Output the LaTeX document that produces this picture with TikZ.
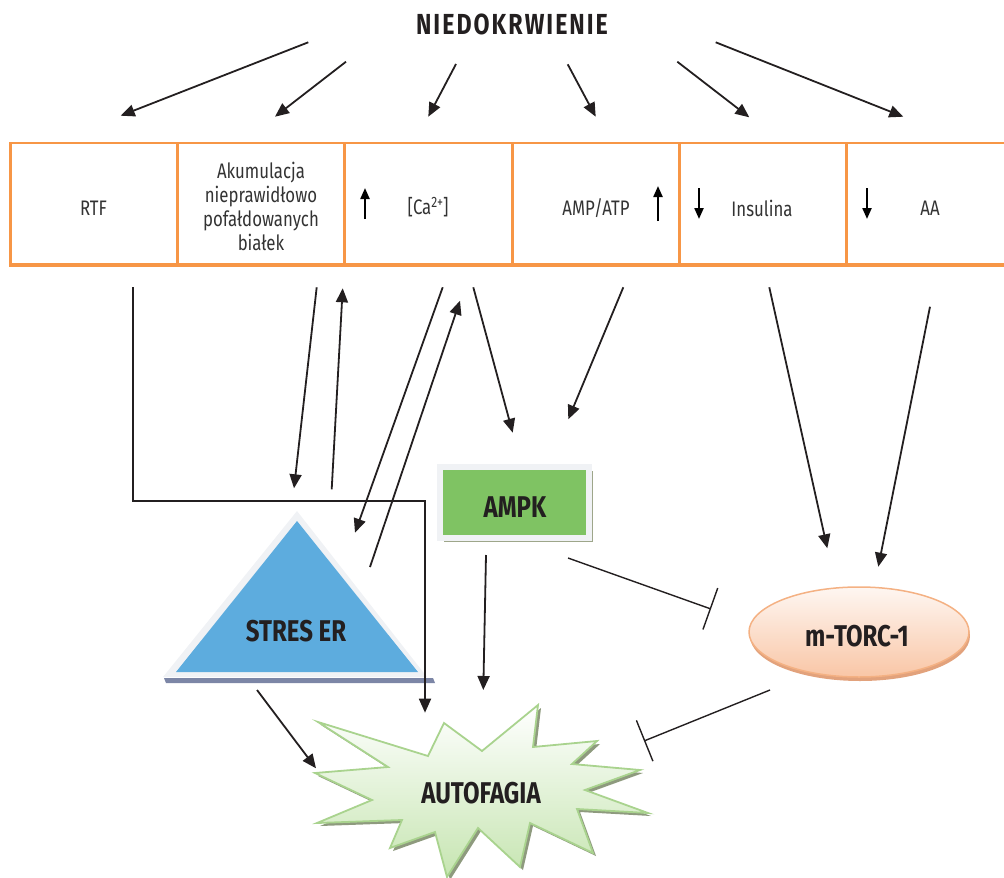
\documentclass[tikz,border=0pt]{standalone}
\usepackage{fontspec}
\setmainfont{Fira Sans}[FakeStretch=0.8]
\usetikzlibrary{arrows.meta,shapes.geometric,shadows}
\definecolor{orng}{HTML}{F79646}
\definecolor{txtgrey}{HTML}{333333}
\definecolor{lblk}{HTML}{231F20}
\definecolor{ampkgreen}{HTML}{7FC363}
\definecolor{ampkrim}{HTML}{F0F2F5}
\definecolor{ampkshadow}{HTML}{9EA68A}
\definecolor{erblue}{HTML}{5DACDE}
\definecolor{errim}{HTML}{F0F2F5}
\definecolor{ershadow}{HTML}{7C86A6}
\definecolor{torcfill}{HTML}{F9C6A6}
\definecolor{torcline}{HTML}{F4B183}
\definecolor{torcshadow}{HTML}{E2A27C}
\definecolor{autofill}{HTML}{C6E5B1}
\definecolor{autoline}{HTML}{A9D38E}
\definecolor{autoshadow}{HTML}{8E9A7E}
\tikzset{
  cell/.style={text=txtgrey, font=\fontsize{21}{24}\selectfont, align=center, inner sep=0pt},
  biglabel/.style={text=lblk, font=\fontsize{30}{32}\selectfont\bfseries, inner sep=0pt},
  conn/.style={line width=1.8pt, lblk, -{Triangle[length=14pt,width=12pt]}},
  inhib/.style={line width=1.4pt, lblk, -{Bar[width=44pt,line width=1.4pt]}},
  miniarrow/.style={line width=2.2pt, black, -{Triangle[length=11pt,width=9pt]}},
}
\begin{document}
\begin{tikzpicture}[x=1pt,y=-1pt]
\useasboundingbox (0,0) rectangle (1004,878);

% title
\node[text=lblk, font=\fontsize{29}{30}\selectfont\bfseries\addfontfeature{LetterSpace=7}, inner sep=0pt] (nied) at (512,24) {NIEDOKRWIENIE};

% table grid
\draw[orng, line width=2.8pt] (10.7,265) -- (10.7,143) -- (1004,143);
\draw[orng, line width=4pt] (9.3,265.3) -- (1004,265.3);
\foreach \x in {177.5,344.7,512.5,679.7,846.3}
  \draw[orng, line width=2.8pt] (\x,143) -- (\x,265);

% table cells
\node[cell] (rtf) at (93.5,208) {RTF};
\node[cell] (akum) at (261,206) {Akumulacja\\nieprawidłowo\\pofałdowanych\\białek};
\node[cell] (ca) at (428,207) {[Ca{\fontsize{15}{15}\selectfont\raisebox{7pt}{2+}}]};
\node[cell] (amp) at (596,208) {AMP/ATP};
\node[cell] (ins) at (762,208) {Insulina};
\node[cell] (aa) at (930,208) {AA};
\coordinate (caup1) at (365,219); \coordinate (caup2) at (365,188);
\coordinate (ampup1) at (658,221); \coordinate (ampup2) at (658,186);
\coordinate (insdn1) at (699,188); \coordinate (insdn2) at (699,219);
\coordinate (aadn1) at (867,188); \coordinate (aadn2) at (867,219);
\draw[miniarrow] (caup1) -- (caup2);
\draw[miniarrow] (ampup1) -- (ampup2);
\draw[miniarrow] (insdn1) -- (insdn2);
\draw[miniarrow] (aadn1) -- (aadn2);

% top arrows
\coordinate (t1s) at (308.3,42.3); \coordinate (t1e) at (120.7,115.7);
\coordinate (t2s) at (346,61.7);   \coordinate (t2e) at (275,116.7);
\coordinate (t3s) at (456,64);     \coordinate (t3e) at (428.3,116.7);
\coordinate (t4s) at (567.7,64.3); \coordinate (t4e) at (595.7,116.7);
\coordinate (t5s) at (677.3,61.7); \coordinate (t5e) at (749.3,117.3);
\coordinate (t6s) at (715.7,42.3); \coordinate (t6e) at (903.3,116.7);
\foreach \i in {1,...,6} \draw[conn] (t\i s) -- (t\i e);

% STRES ER triangle
\fill[ershadow] (164,678) -- (433,678) -- (435,683) -- (166,683) -- cycle;
\fill[errim] (297,511) -- (427,677) -- (163,677) -- cycle;
\fill[erblue] (297,521) -- (418,672) -- (176,672) -- cycle;
\node[biglabel] (stres) at (296,631) {STRES ER};

% AMPK box
\node[draw=ampkrim, line width=6pt, fill=ampkgreen, minimum width=149pt, minimum height=71pt, inner sep=0pt,
      drop shadow={shadow xshift=4pt, shadow yshift=-4pt, fill=ampkshadow, opacity=1}] (ampk) at (514.5,502.5) {};
\node[biglabel] (ampkt) at (515,507) {AMPK};

% m-TORC-1 ellipse
\fill[torcshadow] (860,636) ellipse [x radius=110pt, y radius=45pt];
\shade[top color=white!85!torcfill, bottom color=torcfill] (859,632) ellipse [x radius=110pt, y radius=45pt];
\draw[torcline, line width=1.5pt] (859,632) ellipse [x radius=110pt, y radius=45pt];
\node[biglabel] (mtorc) at (857,636) {m-TORC-1};

% AUTOFAGIA star
\def\starpath{(318,722) -- (428,756) -- (444,723) -- (482,751) -- (538,705) -- (533,747) -- (597,741) -- (572,764) -- (640,770) -- (585,790) -- (648,813) -- (577,809) -- (593,853) -- (530,823) -- (520,867) -- (478,828) -- (447,877) -- (435,832) -- (390,848) -- (402,820) -- (317,823) -- (372,800) -- (315,773) -- (388,767) -- cycle}
\begin{scope}[shift={(3,3)}]
\fill[autoshadow] \starpath;
\end{scope}
\shade[top color=white, bottom color=autofill] \starpath;
\draw[autoline, line width=1.8pt, line join=miter] \starpath;
\node[biglabel] (auto) at (481,793) {AUTOFAGIA};

% lower connectors
\coordinate (r1) at (133,287); \coordinate (r2) at (133,500.7);
\coordinate (r3) at (425,500.7); \coordinate (r4) at (425,712.7);
\draw[conn] (r1) -- (r2) -- (r3) -- (r4);

\coordinate (a1s) at (316.7,287.3); \coordinate (a1e) at (294,488.3);
\draw[conn] (a1s) -- (a1e);
\coordinate (a2s) at (331.7,489.3); \coordinate (a2e) at (342.7,288.3);
\draw[conn] (a2s) -- (a2e);
\coordinate (c1s) at (442.7,287.3); \coordinate (c1e) at (355,532.7);
\draw[conn] (c1s) -- (c1e);
\coordinate (c2s) at (370,567); \coordinate (c2e) at (460,300.7);
\draw[conn] (c2s) -- (c2e);
\coordinate (c3s) at (473.3,287.3); \coordinate (c3e) at (512.7,432.7);
\draw[conn] (c3s) -- (c3e);
\coordinate (m1s) at (623.3,287.3); \coordinate (m1e) at (568.3,419.3);
\draw[conn] (m1s) -- (m1e);
\coordinate (i1s) at (769.3,287.3); \coordinate (i1e) at (827.3,548.3);
\draw[conn] (i1s) -- (i1e);
\coordinate (aa1s) at (930,306.7); \coordinate (aa1e) at (878.3,566.7);
\draw[conn] (aa1s) -- (aa1e);

\coordinate (p1s) at (486,555); \coordinate (p1e) at (483.3,690);
\draw[conn] (p1s) -- (p1e);
\coordinate (s1s) at (257,690); \coordinate (s1e) at (316,768.3);
\draw[conn] (s1s) -- (s1e);

\coordinate (h1s) at (568,558); \coordinate (h1e) at (711,609);
\draw[inhib] (h1s) -- (h1e);
\coordinate (h2s) at (770,690); \coordinate (h2e) at (644,741);
\draw[inhib] (h2s) -- (h2e);
\end{tikzpicture}
\end{document}
